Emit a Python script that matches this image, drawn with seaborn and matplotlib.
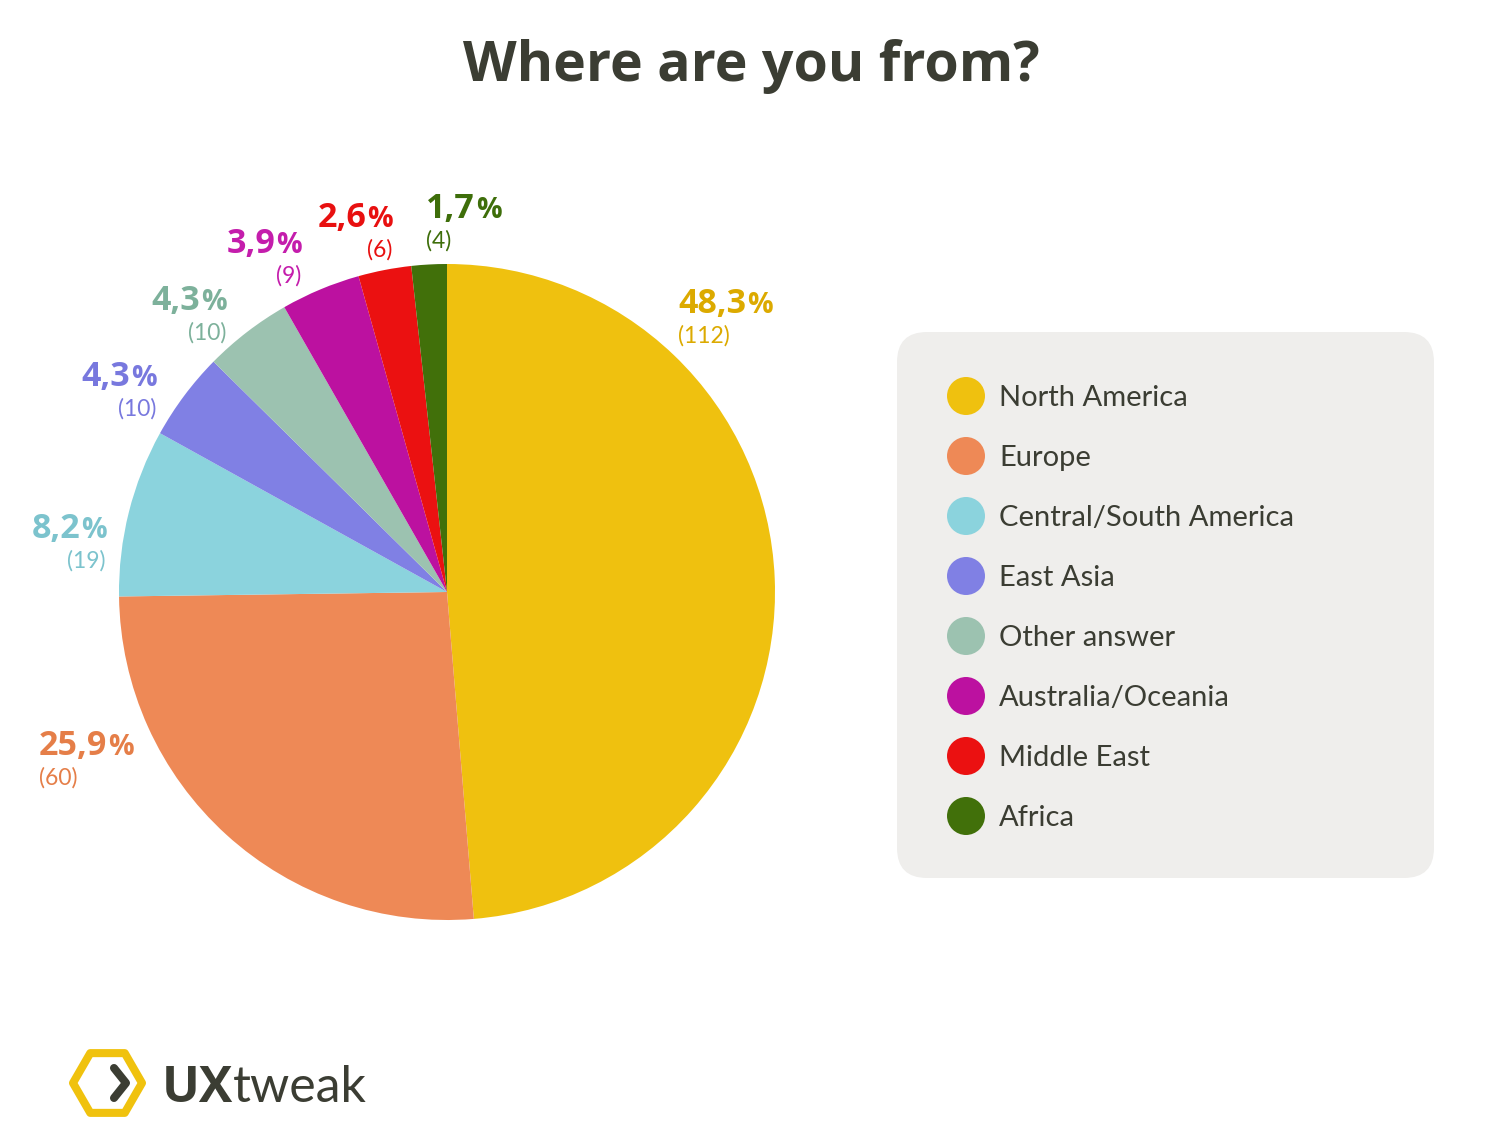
import matplotlib
matplotlib.use("Agg")
import matplotlib.pyplot as plt
import seaborn as sns
import numpy as np
from matplotlib.patches import FancyBboxPatch, Circle, RegularPolygon

# ---------------- data ----------------
regions = ["North America", "Europe", "Central/South America", "East Asia",
           "Other answer", "Australia/Oceania", "Middle East", "Africa"]
counts = [112, 60, 19, 10, 10, 9, 6, 4]
percents = ["48,3", "25,9", "8,2", "4,3", "4,3", "3,9", "2,6", "1,7"]
wedge_colors = ["#EFC10F", "#EE8956", "#8BD3DD", "#8080E4",
                "#9CC2B0", "#BC11A0", "#EB1111", "#41700A"]
label_colors = ["#DCAA00", "#E57E48", "#7CC3CD", "#7878DE",
                "#7DB19B", "#C41DAC", "#E81010", "#3E6E0A"]
title = "Where are you from?"

# label anchors (pixel x, percent baseline y, alignment)
label_anchor = [(678, 313, "left"), (39, 755, "left"), (107, 538, "right"),
                (157, 386, "right"), (227, 310, "right"), (302, 253, "right"),
                (393, 227, "right"), (426, 218, "left")]

W, H = 1500, 1139
DARK = "#3B3D33"
FONT = "Lato"
BOLD = "Open Sans"

sns.set_theme(style="white")
plt.rcParams["font.family"] = [FONT, "DejaVu Sans"]

fig = plt.figure(figsize=(W / 100, H / 100), dpi=100)
fig.patch.set_facecolor("white")
ax = fig.add_axes([0, 0, 1, 1])


def Y(py):
    return H - py


# ---------------- pie ----------------
cx, cy, R = 447, 592, 328
ax.pie(counts, colors=wedge_colors, startangle=90, counterclock=False,
       center=(cx, Y(cy)), radius=R, wedgeprops=dict(linewidth=0))
ax.set_xlim(0, W)
ax.set_ylim(0, H)
ax.set_aspect("auto")
ax.axis("off")

renderer = fig.canvas.get_renderer()

for i, c in enumerate(counts):
    num = percents[i]
    x, yb, ha = label_anchor[i]
    col = label_colors[i]
    bold = dict(family=[BOLD, "DejaVu Sans"], fontweight="bold", color=col,
                va="baseline")
    if ha == "left":
        t = ax.text(x, Y(yb), num, fontsize=24.5, ha="left", **bold)
        w = t.get_window_extent(renderer).width
        ax.text(x + w + 1, Y(yb), "%", fontsize=20.5, ha="left", **bold)
        ax.text(x, Y(yb + 30), f"({c})", fontsize=16.5, color=col,
                ha="left", va="baseline")
    else:
        t = ax.text(x, Y(yb), "%", fontsize=20.5, ha="right", **bold)
        w = t.get_window_extent(renderer).width
        ax.text(x - w - 1, Y(yb), num, fontsize=24.5, ha="right", **bold)
        ax.text(x - 1, Y(yb + 30), f"({c})", fontsize=16.5, color=col,
                ha="right", va="baseline")

# ---------------- title ----------------
ax.text(751, Y(81), title, fontsize=40, fontweight="bold", color=DARK,
        family=[BOLD, "DejaVu Sans"], ha="center", va="baseline")

# ---------------- legend ----------------
box = FancyBboxPatch((897, Y(878)), 537, 546,
                     boxstyle="round,pad=0,rounding_size=30",
                     facecolor="#EFEEEC", edgecolor="none", zorder=1)
ax.add_patch(box)
for i, name in enumerate(regions):
    ry = 396 + i * 60
    ax.add_patch(Circle((966, Y(ry)), 19, facecolor=wedge_colors[i],
                        edgecolor="none", zorder=2))
    ax.text(999, Y(ry + 10), name, fontsize=21, color=DARK, ha="left",
            va="baseline", zorder=3)

# ---------------- logo ----------------
hexa = RegularPolygon((107.5, Y(1083)), numVertices=6, radius=34.5,
                      orientation=np.pi / 6, facecolor="none",
                      edgecolor="#F0C20E", linewidth=5.8, joinstyle="round")
ax.add_patch(hexa)
ax.plot([114, 126, 114], [Y(1068), Y(1083), Y(1098)], color=DARK,
        linewidth=5.8, solid_capstyle="round", solid_joinstyle="round")
t = ax.text(162, Y(1102), "UX", fontsize=36, fontweight="bold", color=DARK,
            family=[BOLD, "DejaVu Sans"], ha="left", va="baseline")
w = t.get_window_extent(renderer).width
ax.text(162 + w, Y(1102), "tweak", fontsize=36, color=DARK, ha="left",
        va="baseline")

fig.savefig("out.png", dpi=100, facecolor="white")
